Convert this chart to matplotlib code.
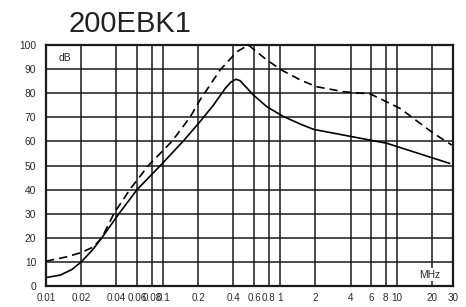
import matplotlib
matplotlib.use('Agg')
import matplotlib.pyplot as plt
from matplotlib.ticker import FixedLocator, NullLocator

plt.rcParams['font.family'] = ['Liberation Sans', 'DejaVu Sans']

# frequenze (MHz) e livelli (dB)
freq_solida = [0.01, 0.0132, 0.0166, 0.02, 0.025, 0.03, 0.042, 0.06, 0.095, 0.148, 0.207,
               0.27, 0.34, 0.38, 0.42, 0.455, 0.51, 0.59, 0.77, 1.07, 1.49, 1.93, 8.2, 28]
db_solida = [3.5, 4.5, 6.8, 10, 15, 20, 30, 40, 50, 60, 68.2,
             75.1, 82, 84.6, 85.8, 85.2, 82.6, 79.3, 74.4, 70.3, 67.2, 65, 59.2, 50.9]

freq_tratt = [0.01, 0.015, 0.02, 0.0254, 0.03, 0.038, 0.052, 0.075, 0.119, 0.17, 0.207,
              0.307, 0.427, 0.536, 0.77, 1.03, 1.49, 2.05, 3.5, 5.9, 10.6, 20.4, 29.3]
db_tratt = [10.3, 12.1, 13.9, 16.2, 20, 30, 40, 50, 60, 70, 77.2,
            89.6, 97.2, 100, 93.8, 89.6, 85.5, 82.7, 80.6, 79.7, 73.7, 63.4, 58.5]

xticks = [0.01, 0.02, 0.04, 0.06, 0.08, 0.1, 0.2, 0.4, 0.6, 0.8, 1, 2, 4, 6, 8, 10, 20, 30]
xticklabels = ['0.01', '0.02', '0.04', '0.06', '0.08', '0.1', '0.2', '0.4', '0.6', '0.8', '1',
               '2', '4', '6', '8', '10', '20', '30']
yticks = list(range(0, 101, 10))

fig = plt.figure(figsize=(4.66, 3.07), dpi=100)
ax = fig.add_axes([0.0987, 0.0684, 0.8733, 0.785])

ax.set_xscale('log')
ax.set_xlim(0.01, 30)
ax.set_ylim(0, 100)

ax.xaxis.set_major_locator(FixedLocator(xticks))
ax.xaxis.set_minor_locator(NullLocator())
ax.set_xticklabels(xticklabels)
ax.set_yticks(yticks)
ax.tick_params(axis='both', length=0, labelsize=7.4, colors='#2a2a2a')
ax.tick_params(axis='x', labelsize=7.1, pad=5)
ax.tick_params(axis='y', pad=7)

ax.grid(True, which='major', color='#1a1a1a', linewidth=1.1)
for s in ax.spines.values():
    s.set_linewidth(1.6)
    s.set_color('#1a1a1a')

ax.plot(freq_solida, db_solida, color='black', linewidth=1.2, zorder=3)
ax.plot(freq_tratt, db_tratt, color='black', linewidth=1.2, linestyle=(0, (5, 3)), zorder=3)

ax.text(0.047, 0.946, 'dB', transform=ax.transAxes, fontsize=7.4, ha='center', va='center',
        color='#2a2a2a', bbox=dict(facecolor='white', edgecolor='none', pad=1), zorder=4)
ax.text(0.943, 0.046, 'MHz', transform=ax.transAxes, fontsize=7.4, ha='center', va='center',
        color='#2a2a2a', bbox=dict(facecolor='white', edgecolor='none', pad=1), zorder=4)

fig.text(0.146, 0.922, '200EBK1', fontsize=21, ha='left', va='center', color='#222222')

fig.savefig('out.png', dpi=100)
